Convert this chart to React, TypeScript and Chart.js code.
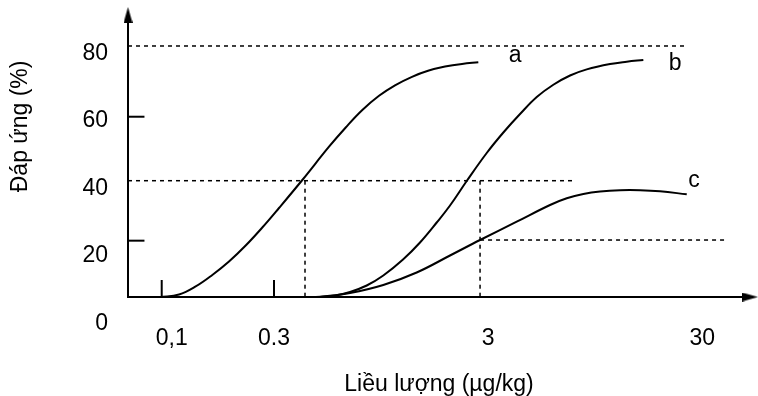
import { useEffect, useRef } from "react";
import { Chart, registerables } from "chart.js";

Chart.register(...registerables);

// ---------- text ----------
const xTitle = "Liều lượng (µg/kg)";
const yTitle = "Đáp ứng (%)";
const xTickValues = [0.1, 0.3, 3, 30];
const xTickLabels = ["0,1", "0.3", "3", "30"];
const yTickValues = [0, 20, 40, 60, 80];

// ---------- axis extents (dose at the drawn axis ends, response at axis line / arrow tip) ----------
const xMin = 0.0666;
const xMax = 53.5;
const yMin = 3.54;
const yMax = 90.45;

// ---------- curve a ----------
const doseA = [0.094, 0.1153, 0.1379, 0.1649, 0.1973, 0.2361, 0.2823, 0.3378, 0.4341, 0.5785, 0.6923, 0.8276, 0.9904, 1.176, 1.412, 1.678, 2.014, 2.418, 2.881];
const respA = [3.5, 4.31, 6.78, 10.32, 14.48, 19.41, 24.96, 30.97, 39.6, 49.86, 55.78, 61.17, 65.55, 68.78, 71.4, 73.25, 74.55, 75.38, 75.87];

// ---------- curve b ----------
const doseB = [0.4818, 0.617, 0.7251, 0.8677, 1.037, 1.282, 1.539, 1.842, 2.125, 2.543, 3.153, 3.771, 4.512, 5.4, 6.455, 7.726, 9.246, 11.88, 14.21, 16.99];
const respB = [3.5, 4.01, 5.08, 7.09, 10.17, 15.1, 20.34, 26.5, 31.74, 39.29, 47.92, 54.24, 59.94, 65.17, 68.95, 71.8, 73.7, 75.35, 76.06, 76.58];

// ---------- curve c ----------
const doseC = [0.514, 0.7251, 1.037, 1.485, 2.125, 2.935, 4.354, 6.23, 7.457, 8.913, 10.67, 13.23, 16.4, 20.34, 27.1];
const respC = [3.5, 4.78, 7.24, 11.09, 16.33, 21.11, 26.75, 31.9, 33.96, 35.29, 36.06, 36.46, 36.46, 36.12, 35.19];

// ---------- dotted guide lines ----------
const level80 = 80.9;
const level40 = 39.38;
const level20 = 21.1;
const guide80End = 26.6;
const guide40End = 7.98;
const guide20Start = 2.935;
const guide20End = 42.25;
const doseMarkA = 0.4468;
const doseMarkBC = 2.935;

// ---------- small tick marks drawn on the axes ----------
const yTickMarkLevels = [59.1, 20.9];
const yTickMarkEnd = 0.0795;
const xTickMarkDoses = [0.0957, 0.3202];
const xTickMarkTop = 8.78;

// ---------- curve names ----------
const curveNames = ["a", "b", "c"];
const curveNameDose = [4.28, 23.9, 29.3];
const curveNameResp = [75.96, 73.5, 37.44];

const INK = "#000";
const FONT = "'Liberation Sans', Arial, sans-serif";
const FONT_SIZE = 23;

// label axis is placed slightly lower than the marks, as in the hand drawing
const labelShift = 4.362;
const labelScale = 0.9629;

export default function App() {
  const ref = useRef<HTMLCanvasElement | null>(null);

  useEffect(() => {
    const canvas = ref.current;
    if (!canvas) return;

    const arrow = document.createElement("canvas");
    arrow.width = 9;
    arrow.height = 16;
    const g = arrow.getContext("2d")!;
    g.fillStyle = INK;
    g.beginPath();
    g.moveTo(4.5, 0);
    g.lineTo(9, 16);
    g.lineTo(0, 16);
    g.closePath();
    g.fill();

    const pts = (xs: number[], ys: number[]) => xs.map((x, i) => ({ x, y: ys[i] }));
    const base = { xAxisID: "x", yAxisID: "y", pointRadius: 0, showLine: true, fill: false, borderColor: INK };
    const curve = (data: any[]) => ({ ...base, data, borderWidth: 2, tension: 0.4 });
    const guide = (data: any[]) => ({ ...base, data, borderWidth: 1.5, borderDash: [4, 4] });
    const mark = (data: any[]) => ({ ...base, data, borderWidth: 2 });

    const datasets: any[] = [
      curve(pts(doseA, respA)),
      curve(pts(doseB, respB)),
      curve(pts(doseC, respC)),
      guide([{ x: xMin, y: level80 }, { x: guide80End, y: level80 }]),
      guide([{ x: xMin, y: level40 }, { x: guide40End, y: level40 }]),
      guide([{ x: guide20Start, y: level20 }, { x: guide20End, y: level20 }]),
      guide([{ x: doseMarkA, y: level40 }, { x: doseMarkA, y: yMin }]),
      guide([{ x: doseMarkBC, y: level40 }, { x: doseMarkBC, y: yMin }]),
      ...yTickMarkLevels.map((v) => mark([{ x: xMin, y: v }, { x: yTickMarkEnd, y: v }])),
      ...xTickMarkDoses.map((d) => mark([{ x: d, y: yMin }, { x: d, y: xTickMarkTop }])),
      {
        ...base, showLine: false, clip: false, data: [{ x: xMin, y: yMax }],
        pointStyle: arrow, pointRadius: 5, pointRotation: 0,
      },
      {
        ...base, showLine: false, clip: false, data: [{ x: xMax, y: yMin }],
        pointStyle: arrow, pointRadius: 5, pointRotation: 90,
      },
    ];

    const annotate = {
      id: "annotate",
      afterDraw(chart: any) {
        const { ctx, scales, chartArea } = chart;
        ctx.save();
        ctx.fillStyle = INK;
        ctx.font = `${FONT_SIZE}px ${FONT}`;
        ctx.textAlign = "center";
        ctx.textBaseline = "alphabetic";
        curveNames.forEach((t, i) => {
          ctx.fillText(t, scales.x.getPixelForValue(curveNameDose[i]), scales.y.getPixelForValue(curveNameResp[i]));
        });
        // y axis title (drawn above the axis centre, as in the original)
        const cx = scales.yl.left + 21;
        const cy = chartArea.top + 0.395 * (chartArea.bottom - chartArea.top);
        ctx.translate(cx, cy);
        ctx.rotate(-Math.PI / 2);
        ctx.textBaseline = "middle";
        ctx.fillText(yTitle, 0, 0);
        ctx.restore();
      },
    };

    const tickFont = { family: FONT, size: FONT_SIZE };

    const chart = new Chart(canvas, {
      type: "scatter",
      data: { datasets },
      plugins: [annotate],
      options: {
        animation: false,
        responsive: false,
        devicePixelRatio: 1,
        events: [],
        layout: { padding: { top: 15, right: 8, bottom: 0, left: 0 } },
        plugins: { legend: { display: false }, tooltip: { enabled: false } },
        scales: {
          x: {
            type: "logarithmic",
            position: "bottom",
            min: xMin,
            max: xMax,
            bounds: "data",
            grid: { display: false, drawTicks: false },
            border: { display: true, color: INK, width: 2 },
            ticks: {
              autoSkip: false,
              maxRotation: 0,
              minRotation: 0,
              padding: 28,
              labelOffset: 6,
              color: INK,
              font: tickFont,
              callback: (_v: any, i: number) => xTickLabels[i],
            },
            afterBuildTicks: (s: any) => {
              s.ticks = xTickValues.map((value) => ({ value }));
            },
            title: {
              display: true,
              text: xTitle,
              color: INK,
              font: { family: FONT, size: FONT_SIZE, lineHeight: 1 },
              padding: { top: 0, bottom: 0 },
            },
            afterFit: (s: any) => {
              s.height = 99;
              s.paddingLeft = 0;
              s.paddingRight = 0;
            },
          },
          y: {
            type: "linear",
            display: false,
            min: yMin,
            max: yMax,
            bounds: "data",
          },
          yl: {
            type: "linear",
            position: "left",
            min: labelShift + labelScale * yMin,
            max: labelShift + labelScale * yMax,
            bounds: "data",
            grid: { display: false, drawTicks: false },
            border: { display: true, color: INK, width: 2 },
            ticks: { autoSkip: false, padding: 20, color: INK, font: tickFont },
            afterBuildTicks: (s: any) => {
              s.ticks = yTickValues.map((value) => ({ value }));
            },
            afterFit: (s: any) => {
              s.width = 128;
              s.paddingTop = 0;
              s.paddingBottom = 0;
            },
          },
        },
      } as any,
    });

    return () => chart.destroy();
  }, []);

  return (
    <canvas
      ref={ref}
      width={758}
      height={396}
      style={{ position: "absolute", left: 0, top: 0, display: "block", background: "#fff" }}
    />
  );
}
